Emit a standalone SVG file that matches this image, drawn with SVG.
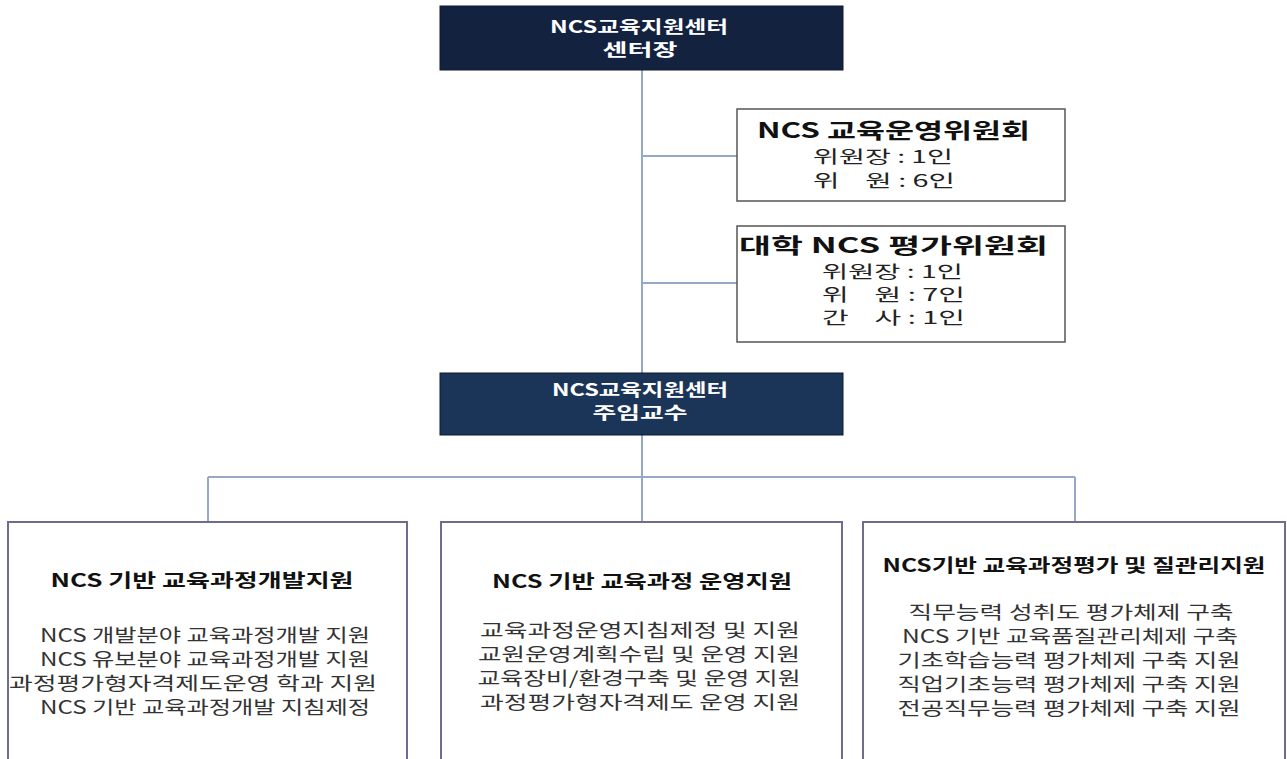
<svg xmlns="http://www.w3.org/2000/svg" width="1287" height="759" viewBox="0 0 1287 759">
<style>
text{font-family:"Noto Sans CJK KR","Liberation Sans",sans-serif}
.dark{stroke:#0d1a2e;stroke-width:1}
.wt{fill:#ffffff;font-weight:700;font-size:17px;text-anchor:middle}
.box{fill:#ffffff;stroke:#716c8e;stroke-width:2}
.cbox{fill:#ffffff;stroke:#555555;stroke-width:1.5}
.conn{stroke:#93a9c6;stroke-width:2;fill:none}
.ct{font-weight:700;font-size:21px;fill:#111111}
.cl{font-size:17px;fill:#222222;white-space:pre}
.bt{font-weight:700;font-size:18px;fill:#111111;text-anchor:middle}
.bl{font-size:18px;fill:#333333;text-anchor:middle}
</style>
<rect width="1287" height="759" fill="#ffffff"/>
<g id="connectors">
<line class="conn" x1="642" y1="70" x2="642" y2="373"/>
<line class="conn" x1="642" y1="156" x2="737" y2="156"/>
<line class="conn" x1="642" y1="283" x2="737" y2="283"/>
<line class="conn" x1="642" y1="435" x2="642" y2="522"/>
<line class="conn" x1="208" y1="477" x2="1075" y2="477"/>
<line class="conn" x1="208" y1="477" x2="208" y2="522"/>
<line class="conn" x1="1075" y1="477" x2="1075" y2="522"/>
</g>
<g id="director">
<rect class="dark" x="440" y="6" width="403" height="64" fill="#13233f"/>
<text class="wt" x="639" y="33" textLength="178" lengthAdjust="spacingAndGlyphs">NCS교육지원센터</text>
<text class="wt" x="640" y="56" textLength="75" lengthAdjust="spacingAndGlyphs">센터장</text>
</g>
<g id="committee-ops">
<rect class="cbox" x="737" y="109" width="328" height="92"/>
<text class="ct" x="757" y="138" textLength="273" lengthAdjust="spacingAndGlyphs">NCS 교육운영위원회</text>
<text class="cl" x="813" y="163" textLength="140" lengthAdjust="spacingAndGlyphs">위원장 : 1인</text>
<text class="cl" x="813" y="187" textLength="142" lengthAdjust="spacingAndGlyphs">위    원 : 6인</text>
</g>
<g id="committee-eval">
<rect class="cbox" x="737" y="226" width="328" height="116"/>
<text class="ct" x="739" y="253" textLength="309" lengthAdjust="spacingAndGlyphs">대학 NCS 평가위원회</text>
<text class="cl" x="822" y="278" textLength="141" lengthAdjust="spacingAndGlyphs">위원장 : 1인</text>
<text class="cl" x="822" y="301" textLength="143" lengthAdjust="spacingAndGlyphs">위    원 : 7인</text>
<text class="cl" x="822" y="324" textLength="143" lengthAdjust="spacingAndGlyphs">간    사 : 1인</text>
</g>
<g id="professor">
<rect class="dark" x="440" y="373" width="403" height="62" fill="#1b3558"/>
<text class="wt" x="640" y="396" textLength="176" lengthAdjust="spacingAndGlyphs">NCS교육지원센터</text>
<text class="wt" x="640" y="419" textLength="95" lengthAdjust="spacingAndGlyphs">주임교수</text>
</g>
<g id="dev-support">
<rect class="box" x="8" y="522" width="399" height="250"/>
<text class="bt" x="202" y="587" textLength="303" lengthAdjust="spacingAndGlyphs">NCS 기반 교육과정개발지원</text>
<text class="bl" x="205" y="642" textLength="330" lengthAdjust="spacingAndGlyphs">NCS 개발분야 교육과정개발 지원</text>
<text class="bl" x="205" y="666" textLength="330" lengthAdjust="spacingAndGlyphs">NCS 유보분야 교육과정개발 지원</text>
<text class="bl" x="193" y="690" textLength="368" lengthAdjust="spacingAndGlyphs">과정평가형자격제도운영 학과 지원</text>
<text class="bl" x="205" y="714" textLength="330" lengthAdjust="spacingAndGlyphs">NCS 기반 교육과정개발 지침제정</text>
</g>
<g id="ops-support">
<rect class="box" x="441" y="522" width="401" height="250"/>
<text class="bt" x="642" y="588" textLength="300" lengthAdjust="spacingAndGlyphs">NCS 기반 교육과정 운영지원</text>
<text class="bl" x="640" y="637" textLength="320" lengthAdjust="spacingAndGlyphs">교육과정운영지침제정 및 지원</text>
<text class="bl" x="639" y="661" textLength="322" lengthAdjust="spacingAndGlyphs">교원운영계획수립 및 운영 지원</text>
<text class="bl" x="639" y="685" textLength="323" lengthAdjust="spacingAndGlyphs">교육장비/환경구축 및 운영 지원</text>
<text class="bl" x="640" y="709" textLength="320" lengthAdjust="spacingAndGlyphs">과정평가형자격제도 운영 지원</text>
</g>
<g id="quality-support">
<rect class="box" x="863" y="522" width="422" height="250"/>
<text class="bt" x="1074" y="572" textLength="383" lengthAdjust="spacingAndGlyphs">NCS기반 교육과정평가 및 질관리지원</text>
<text class="bl" x="1071" y="619" textLength="325" lengthAdjust="spacingAndGlyphs">직무능력 성취도 평가체제 구축</text>
<text class="bl" x="1070" y="643" textLength="336" lengthAdjust="spacingAndGlyphs">NCS 기반 교육품질관리체제 구축</text>
<text class="bl" x="1069" y="667" textLength="343" lengthAdjust="spacingAndGlyphs">기초학습능력 평가체제 구축 지원</text>
<text class="bl" x="1069" y="691" textLength="343" lengthAdjust="spacingAndGlyphs">직업기초능력 평가체제 구축 지원</text>
<text class="bl" x="1069" y="715" textLength="343" lengthAdjust="spacingAndGlyphs">전공직무능력 평가체제 구축 지원</text>
</g>
</svg>
